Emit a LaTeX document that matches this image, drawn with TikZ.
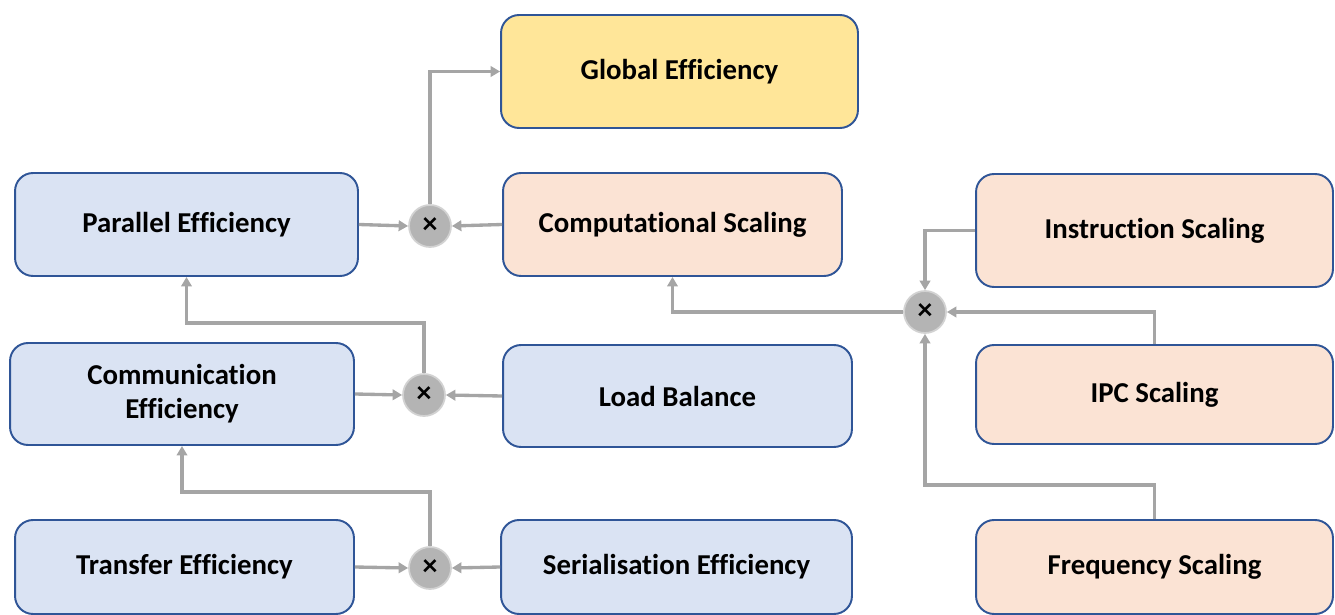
\documentclass[tikz,border=0pt]{standalone}
\usepackage{fontspec}
\setmainfont{Carlito}[Ligatures=NoCommon]
\usepackage{tikz}
\usetikzlibrary{arrows.meta, positioning}
\pgfdeclarelayer{edgelayer}
\pgfdeclarelayer{nodelayer}
\pgfsetlayers{nodelayer,main,edgelayer}
\definecolor{boxline}{HTML}{2F5597}
\definecolor{bluefill}{HTML}{DAE3F3}
\definecolor{peachfill}{HTML}{FBE3D4}
\definecolor{goldfill}{HTML}{FFE699}
\definecolor{linkgray}{HTML}{A5A5A5}
\definecolor{multfill}{HTML}{B4B4B4}
\definecolor{multline}{HTML}{D2D2D2}

\begin{document}
\begin{tikzpicture}[x=0.02cm, y=-0.02cm,
	font=\fontsize{16.4}{19.5}\selectfont\bfseries,
	box/.style={draw=boxline, line width=1.1pt, rounded corners=0.36cm, align=center},
	bluebox/.style={box, fill=bluefill},
	peachbox/.style={box, fill=peachfill},
	goldbox/.style={box, fill=goldfill},
	mult/.style={circle, fill=multfill, draw=multline, line width=1pt, minimum size=0.84cm, inner sep=0pt, font=\fontsize{17}{17}\selectfont\bfseries},
	link/.style={draw=linkgray, line width=1.9pt, -{Triangle[length=0.19cm, width=0.21cm]}}]
	\useasboundingbox (0,0) rectangle (1335,615);
	\begin{pgfonlayer}{nodelayer}
		\node [goldbox, minimum width=7.14cm, minimum height=2.26cm] (0) at (679.5, 71.5) {Global Efficiency};
		\node [bluebox, minimum width=6.86cm, minimum height=2.06cm] (1) at (186.5, 224.5) {Parallel Efficiency};
		\node [peachbox, minimum width=6.78cm, minimum height=2.06cm] (2) at (672.5, 224.5) {Computational Scaling};
		\node [peachbox, minimum width=7.14cm, minimum height=2.26cm] (3) at (1154.5, 230.5) {Instruction Scaling};
		\node [bluebox, minimum width=6.88cm, minimum height=2.04cm] (4) at (182, 394) {Communication\\Efficiency};
		\node [bluebox, minimum width=6.98cm, minimum height=2.04cm] (5) at (677.5, 396) {Load Balance};
		\node [peachbox, minimum width=7.14cm, minimum height=1.98cm] (6) at (1154.5, 394.5) {IPC Scaling};
		\node [bluebox, minimum width=6.78cm, minimum height=1.88cm] (7) at (184.5, 567) {Transfer Efficiency};
		\node [bluebox, minimum width=7.02cm, minimum height=1.88cm] (8) at (676.5, 567) {Serialisation Efficiency};
		\node [peachbox, minimum width=7.14cm, minimum height=1.88cm] (9) at (1154.5, 567) {Frequency Scaling};
		\node [mult] (10) at (430, 226) {×};
		\node [mult] (11) at (424, 395) {×};
		\node [mult] (12) at (430, 568) {×};
		\node [mult] (13) at (925, 312) {×};
		\coordinate (20) at (424, 323);
		\coordinate (21) at (430, 492);
		\coordinate (22) at (1154.5, 485);
	\end{pgfonlayer}
	\begin{pgfonlayer}{edgelayer}
		\draw [link] (1.east) to (10.west);
		\draw [link] (2.west) to (10.east);
		\draw [link] (10) |- (0);
		\draw [link] (4.east) to (11.west);
		\draw [link] (5.west) to (11.east);
		\draw [link] (11) -- (20) -| (1);
		\draw [link] (7.east) to (12.west);
		\draw [link] (8.west) to (12.east);
		\draw [link] (12) -- (21) -| (4);
		\draw [link] (3) -| (13);
		\draw [link] (6) |- (13);
		\draw [link] (9) -- (22) -| (13);
		\draw [link] (13) -| (2);
	\end{pgfonlayer}
\end{tikzpicture}
\end{document}
